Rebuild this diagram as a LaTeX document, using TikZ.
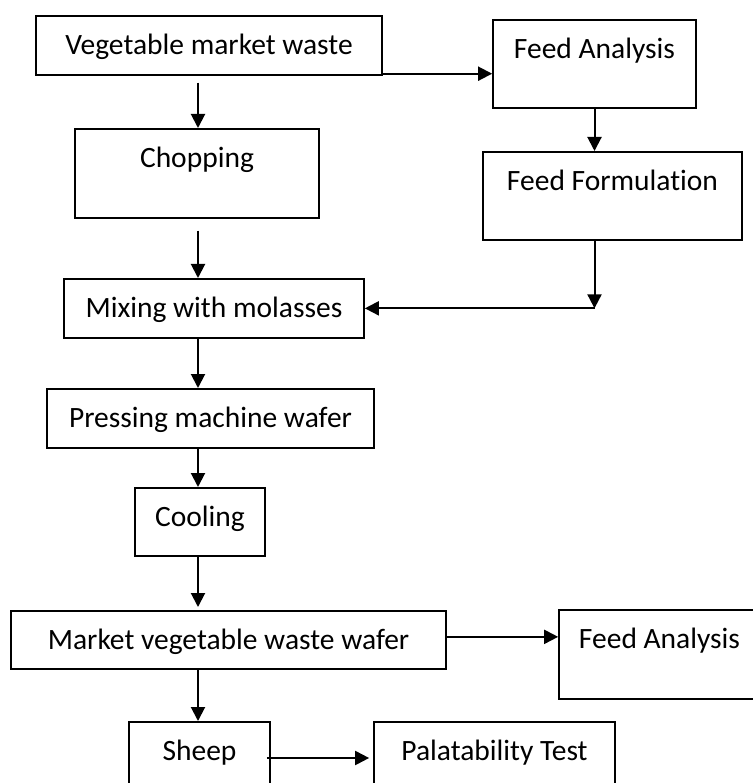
\documentclass[tikz,border=0pt]{standalone}
\usepackage{fontspec}
\setmainfont{Carlito}[Ligatures=NoCommon]
\usetikzlibrary{arrows.meta, positioning, calc}

\begin{document}
\begin{tikzpicture}[x=1pt, y=-1pt,
        box/.style={draw, line width=1.7pt, inner sep=0pt, text height=39pt, anchor=north,
                    font=\fontsize{29.5}{34}\selectfont},
        arr/.style={line width=2pt, -{Triangle[length=14pt, width=14pt]}}]
    \useasboundingbox (0,0) rectangle (752,783);

    % main line
    \node[box, minimum width=346pt, text depth=20pt] (waste) at (209,15) {Vegetable market waste};
    \node[box, minimum width=244pt, text depth=50pt] (chop) at (197,128) {Chopping};
    \node[box, minimum width=300pt, text depth=20pt] (mix) at (214,278) {Mixing with molasses};
    \node[box, minimum width=327pt, text depth=20pt] (press) at (210.5,388) {Pressing machine wafer};
    \node[box, minimum width=130pt, text depth=29pt] (cool) at (200,487) {Cooling};
    \node[box, minimum width=435pt, text depth=19pt] (wafer) at (228.5,610) {Market vegetable waste wafer};
    \node[box, minimum width=141pt, text depth=50pt] (sheep) at (199.5,721) {Sheep};

    % side boxes
    \node[box, minimum width=203pt, text depth=49pt] (fa1) at (594.5,19) {Feed Analysis};
    \node[box, minimum width=259pt, text depth=49pt] (form) at (612.5,151) {Feed Formulation};
    \node[box, minimum width=201pt, text depth=50pt] (fa2) at (659.5,609) {Feed Analysis};
    \node[box, minimum width=241pt, text depth=50pt] (pal) at (494.5,721) {Palatability Test};

    \coordinate (spine) at (198,0);
    \coordinate (turn) at (fa1.south |- mix.east);

    % arrows down the middle
    \draw[arr] ([yshift=-7pt]waste.south -| spine) -- (spine |- chop.north);
    \draw[arr] ([yshift=-12pt]chop.south -| spine) -- (spine |- mix.north);
    \draw[arr] (spine |- mix.south) -- (spine |- press.north);
    \draw[arr] (spine |- press.south) -- (spine |- cool.north);
    \draw[arr] (spine |- cool.south) -- ([yshift=3pt]spine |- wafer.north);
    \draw[arr] (spine |- wafer.south) -- (spine |- sheep.north);

    % arrows to the side
    \draw[arr] ([yshift=2pt]waste.south east) -- ([yshift=2pt]waste.south east -| fa1.west);
    \draw[arr] (fa1.south) -- (fa1.south |- form.north);
    \draw[arr] (fa1.south |- form.south) -- (turn);
    \draw[arr] (turn) -- (mix.east);
    \draw[arr] ([yshift=3pt]wafer.east) -- ([yshift=3pt]wafer.east -| fa2.west);
    \draw[arr] ([shift={(-4pt,-37pt)}]sheep.north east) -- ([shift={(-4pt,-37pt)}]sheep.north east -| pal.west);
\end{tikzpicture}
\end{document}
